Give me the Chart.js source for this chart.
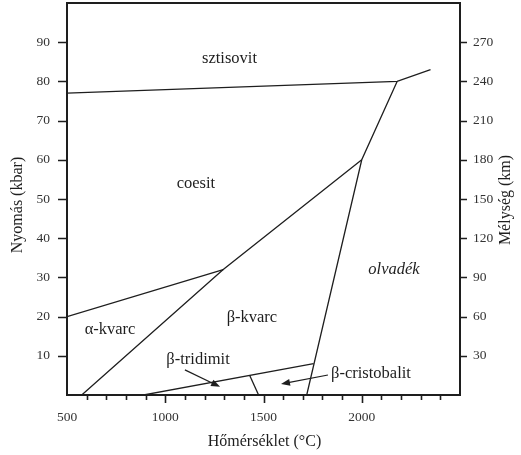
<!DOCTYPE html>
<html>
<head>
<meta charset="utf-8">
<script src="https://cdn.jsdelivr.net/npm/chart.js@4/dist/chart.umd.min.js"></script>
<style>
  html, body { margin: 0; padding: 0; background: #fff; }
  #wrap { width: 521px; height: 455px; }
</style>
</head>
<body>
<div id="wrap"><canvas id="chart" width="521" height="455"></canvas></div>
<script>
// SiO2 fázisdiagram — hőmérséklet (°C) / nyomás (kbar)

// fázishatárok (T, P)
const sztisovitT = [500, 2180, 2350];
const sztisovitP = [77, 80, 83];
const olvadasT   = [1720, 2000, 2180];
const olvadasP   = [0, 60, 80];
const coesitT    = [575, 1295, 2000];
const coesitP    = [0, 32, 60];
const alfaBetaT  = [500, 1295];
const alfaBetaP  = [20, 32];
const tridimitT  = [890, 1755];
const tridimitP  = [0, 8];
const cristobT   = [1430, 1475];
const cristobP   = [5, 0];

// mezők feliratai
const mezoNevek = ['sztisovit', 'coesit', 'α-kvarc', 'β-kvarc', 'olvadék', 'β-tridimit', 'β-cristobalit'];
const mezoT     = [1327, 1156, 719, 1441, 2164, 1167, 2047];
const mezoP     = [85.7, 53.8, 16.6, 19.6, 31.9, 8.9, 5.4];
const mezoDolt  = [false, false, false, false, true, false, false];

// nyilak (kezdet -> hegy)
const nyilT0 = [1100, 1828];
const nyilP0 = [6.4, 5.1];
const nyilT1 = [1279, 1589];
const nyilP1 = [2.1, 2.8];

// tengelyek
const xMin = 500, xMax = 2500;
const xCimkek = [500, 1000, 1500, 2000];
const yMin = 0, yMax = 100;
const yCimkek = [10, 20, 30, 40, 50, 60, 70, 80, 90];
const kmMax = 300;
const kmCimkek = [30, 60, 90, 120, 150, 180, 210, 240, 270];

const SERIF = '"Liberation Serif", "DejaVu Serif", serif';
const INK = '#1e1e1e';

function vonal(T, P) {
  return {
    data: T.map((t, i) => ({ x: t, y: P[i] })),
    showLine: true,
    borderColor: INK,
    borderWidth: 1.3,
    pointRadius: 0,
    fill: false,
    tension: 0,
  };
}

const rajzoloPlugin = {
  id: 'rajzolo',
  afterDraw(chart) {
    const { ctx, chartArea: a, scales } = chart;
    const x = scales.x, y = scales.y, y2 = scales.y2;
    ctx.save();

    // keret
    ctx.strokeStyle = INK;
    ctx.lineWidth = 2;
    ctx.strokeRect(a.left, a.top, a.right - a.left, a.bottom - a.top);

    // osztásjelek
    ctx.lineWidth = 1.6;
    ctx.beginPath();
    for (let t = xMin + 100; t < xMax; t += 100) {
      const px = Math.round(x.getPixelForValue(t)) + 0.5;
      const len = t % 500 === 0 ? 8 : 5;
      ctx.moveTo(px, a.bottom);
      ctx.lineTo(px, a.bottom + len);
    }
    yCimkek.forEach((v) => {
      const py = Math.round(y.getPixelForValue(v)) + 0.5;
      ctx.moveTo(a.left - 9, py);
      ctx.lineTo(a.left, py);
    });
    kmCimkek.forEach((v) => {
      const py = Math.round(y2.getPixelForValue(v)) + 0.5;
      ctx.moveTo(a.right, py);
      ctx.lineTo(a.right + 7, py);
    });
    ctx.stroke();

    // nyilak
    ctx.lineWidth = 1.2;
    ctx.fillStyle = INK;
    nyilT0.forEach((t0, i) => {
      const x0 = x.getPixelForValue(t0), y0 = y.getPixelForValue(nyilP0[i]);
      const x1 = x.getPixelForValue(nyilT1[i]), y1 = y.getPixelForValue(nyilP1[i]);
      const ang = Math.atan2(y1 - y0, x1 - x0);
      ctx.beginPath();
      ctx.moveTo(x0, y0);
      ctx.lineTo(x1 - 6 * Math.cos(ang), y1 - 6 * Math.sin(ang));
      ctx.stroke();
      ctx.beginPath();
      ctx.moveTo(x1, y1);
      ctx.lineTo(x1 - 9 * Math.cos(ang) + 3.5 * Math.sin(ang), y1 - 9 * Math.sin(ang) - 3.5 * Math.cos(ang));
      ctx.lineTo(x1 - 9 * Math.cos(ang) - 3.5 * Math.sin(ang), y1 - 9 * Math.sin(ang) + 3.5 * Math.cos(ang));
      ctx.closePath();
      ctx.fill();
    });

    // mezők nevei
    ctx.fillStyle = INK;
    ctx.textAlign = 'center';
    ctx.textBaseline = 'middle';
    mezoNevek.forEach((nev, i) => {
      ctx.font = (mezoDolt[i] ? 'italic ' : '') + '16.5px ' + SERIF;
      ctx.fillText(nev, x.getPixelForValue(mezoT[i]), y.getPixelForValue(mezoP[i]));
    });

    // tengelycímek
    ctx.font = '16px ' + SERIF;
    ctx.fillText('Hőmérséklet (°C)', (a.left + a.right) / 2 + 1, 442);
    ctx.save();
    ctx.translate(18, 205);
    ctx.rotate(-Math.PI / 2);
    ctx.fillText('Nyomás (kbar)', 0, 0);
    ctx.restore();
    ctx.save();
    ctx.translate(506, 200);
    ctx.rotate(-Math.PI / 2);
    ctx.fillText('Mélység (km)', 0, 0);
    ctx.restore();

    ctx.restore();
  },
};

const tickFont = { family: SERIF, size: 13.5 };

// függőleges tengelyek: fix szélesség, nincs extra belső margó
function fixSzel(w) {
  return (s) => {
    s.width = w;
    s.paddingTop = 0;
    s.paddingBottom = 0;
  };
}

new Chart(document.getElementById('chart'), {
  type: 'scatter',
  data: {
    datasets: [
      vonal(sztisovitT, sztisovitP),
      vonal(olvadasT, olvadasP),
      vonal(coesitT, coesitP),
      vonal(alfaBetaT, alfaBetaP),
      vonal(tridimitT, tridimitP),
      vonal(cristobT, cristobP),
    ],
  },
  options: {
    responsive: false,
    animation: false,
    layout: { padding: { top: 3, left: 0, right: 0, bottom: 0 } },
    plugins: {
      legend: { display: false },
      tooltip: { enabled: false },
    },
    scales: {
      x: {
        type: 'linear',
        min: xMin,
        max: xMax,
        grid: { display: false, drawTicks: false },
        border: { display: false },
        afterFit: (s) => { s.height = 60; s.paddingLeft = 0; s.paddingRight = 0; },
        ticks: {
          stepSize: 100,
          autoSkip: false,
          maxRotation: 0,
          padding: 14,
          color: '#333',
          font: tickFont,
          callback: (v) => (xCimkek.includes(v) ? String(v) : ''),
        },
      },
      y: {
        type: 'linear',
        position: 'left',
        min: yMin,
        max: yMax,
        grid: { display: false, drawTicks: false },
        border: { display: false },
        afterFit: fixSzel(67),
        ticks: {
          stepSize: 10,
          padding: 17,
          color: '#333',
          font: tickFont,
          callback: (v) => (yCimkek.includes(v) ? String(v) : ''),
        },
      },
      y2: {
        type: 'linear',
        position: 'right',
        min: 0,
        max: kmMax,
        grid: { display: false, drawTicks: false },
        border: { display: false },
        afterFit: fixSzel(61),
        ticks: {
          stepSize: 30,
          padding: 13,
          color: '#333',
          font: tickFont,
          callback: (v) => (kmCimkek.includes(v) ? String(v) : ''),
        },
      },
    },
  },
  plugins: [rajzoloPlugin],
});
</script>
</body>
</html>
